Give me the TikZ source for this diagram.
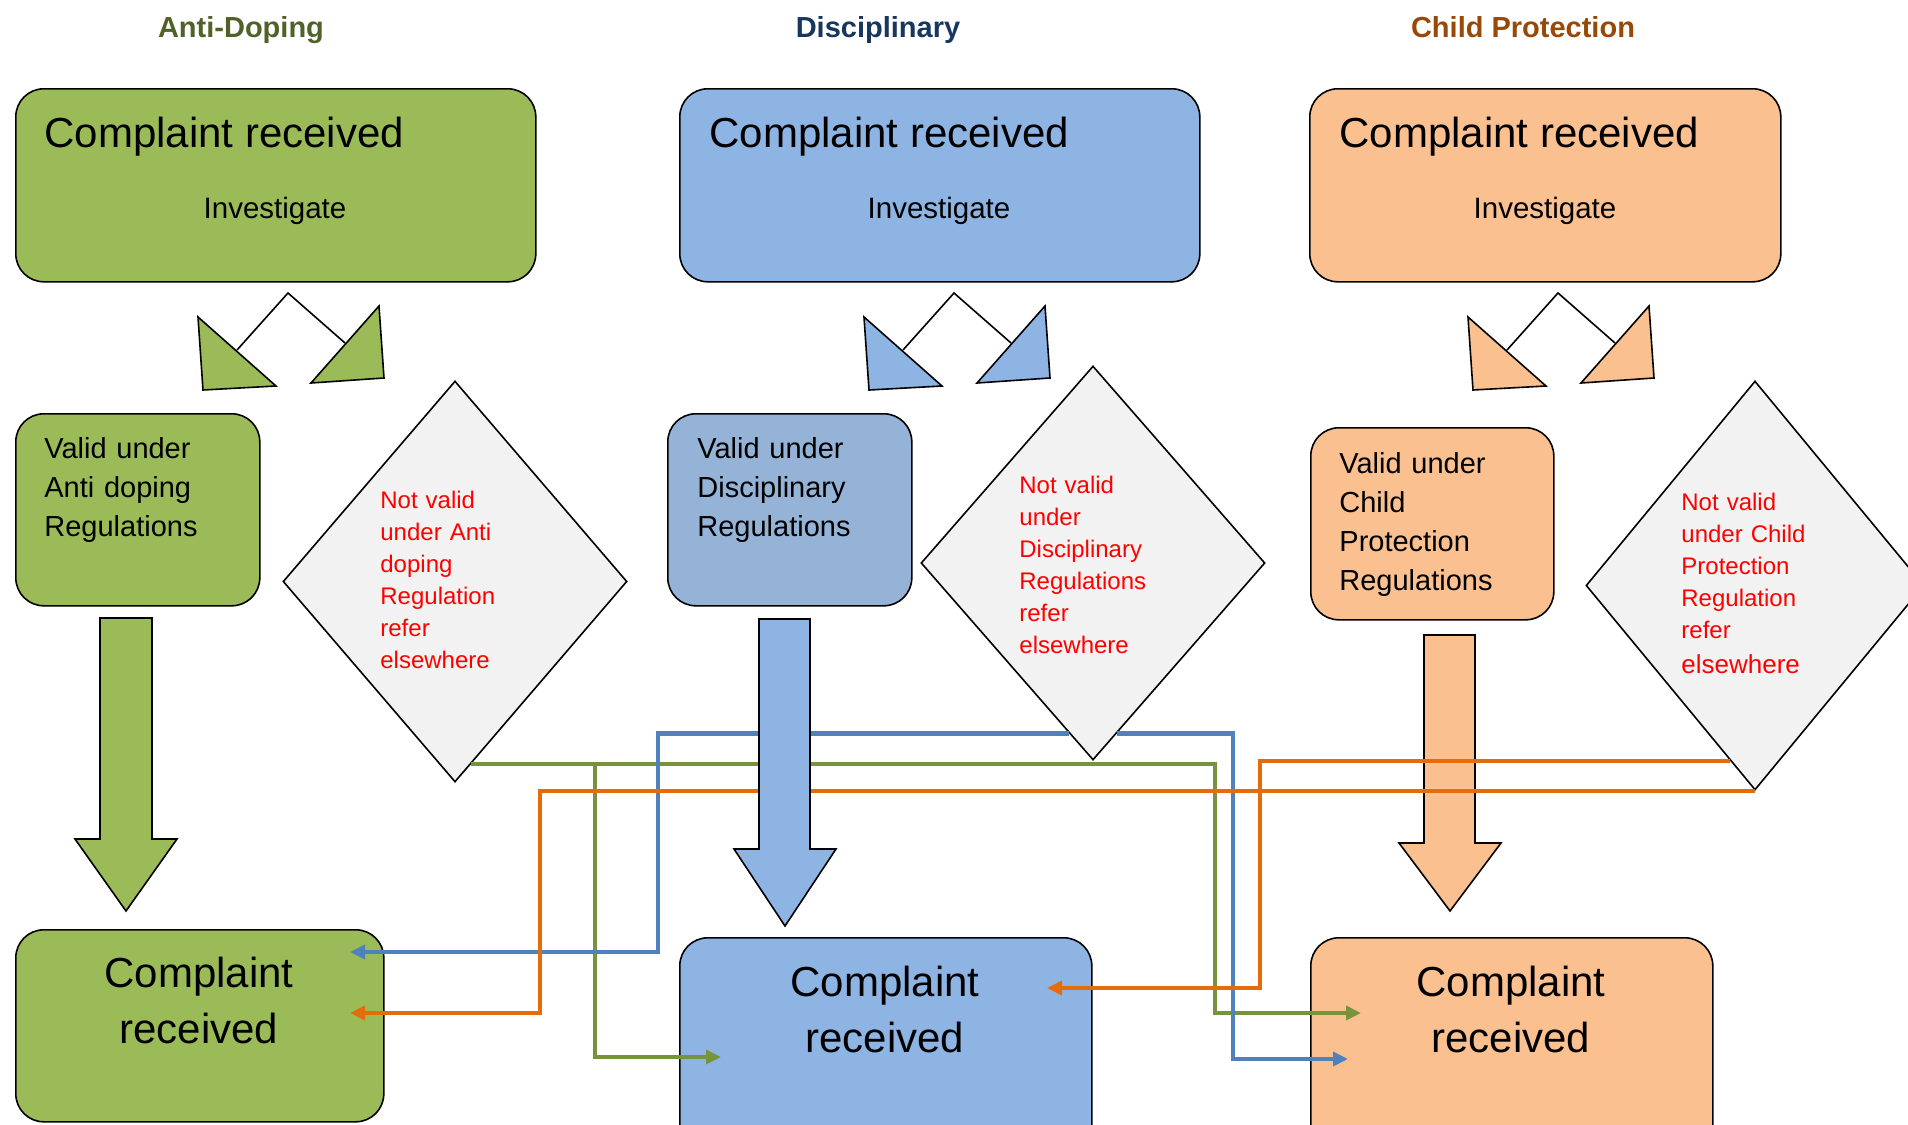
\documentclass[tikz,border=0pt]{standalone}
\usepackage{fontspec}
\setmainfont{Liberation Sans}
\usetikzlibrary{shapes.geometric, arrows.meta}

\definecolor{adgreen}{HTML}{9BBB59}
\definecolor{adtitle}{HTML}{4F6228}
\definecolor{adline}{HTML}{77933C}
\definecolor{dcblue}{HTML}{8EB4E3}
\definecolor{dcvalid}{HTML}{95B3D7}
\definecolor{dctitle}{HTML}{17375E}
\definecolor{dcline}{HTML}{4F81BD}
\definecolor{cporange}{HTML}{FAC090}
\definecolor{cptitle}{HTML}{984807}
\definecolor{cpline}{HTML}{E46C0A}
\definecolor{notfill}{HTML}{F2F2F2}

\tikzset{
  head/.style = {anchor=base, inner sep=0pt, font=\fontsize{14.5}{17}\selectfont\bfseries},
  box/.style = {draw, line width=0.8pt, rounded corners=14pt, anchor=north west, inner sep=0pt},
  bigtext/.style = {anchor=base west, inner sep=0pt, font=\fontsize{21}{28}\selectfont},
  invtext/.style = {anchor=base, inner sep=0pt, font=\fontsize{14.75}{18}\selectfont},
  validtext/.style = {anchor=base west, inner sep=0pt, text width=110pt, align=left, font=\fontsize{14.5}{19.5}\selectfont},
  notbox/.style = {diamond, draw, line width=0.8pt, fill=notfill, inner sep=0pt},
  nottext/.style = {anchor=base west, inner sep=0pt, text width=80pt, align=left, text=red, font=\fontsize{12}{16}\selectfont},
  bottext/.style = {anchor=base, inner sep=0pt, text width=150pt, align=center, font=\fontsize{21}{28}\selectfont},
  fork/.style = {draw, line width=0.8pt},
  bigarrow/.style = {draw, line width=0.8pt, line join=miter},
  link/.style = {line width=2.25pt, -{Triangle[length=7.5pt, width=7pt]}}
}

\begin{document}
\begin{tikzpicture}[x=0.5pt, y=-0.5pt]
\useasboundingbox (0,0) rectangle (1908,1125);

% headings
\node[head, text=adtitle] (adhead) at (241,37) {Anti-Doping};
\node[head, text=dctitle] (dchead) at (878,37) {Disciplinary};
\node[head, text=cptitle] (cphead) at (1523,37) {Child Protection};

% complaint boxes
\node[box, fill=adgreen, minimum width=260pt, minimum height=96.5pt] (adtop) at (15,88) {};
\node[bigtext] (adtopa) at (44,147) {Complaint received};
\node[invtext] (adtopb) at (275,218) {Investigate};
\node[box, fill=dcblue, minimum width=260pt, minimum height=96.5pt] (dctop) at (679,88) {};
\node[bigtext] (dctopa) at (709,147) {Complaint received};
\node[invtext] (dctopb) at (939,218) {Investigate};
\node[box, fill=cporange, minimum width=235.5pt, minimum height=96.5pt] (cptop) at (1309,88) {};
\node[bigtext] (cptopa) at (1339,147) {Complaint received};
\node[invtext] (cptopb) at (1545,218) {Investigate};

% forks
\draw[fork, fill=adgreen] (198,317) -- (203,390) -- (276,386) -- cycle;
\draw[fork, fill=adgreen] (379,306) -- (384,378) -- (311,383) -- cycle;
\draw[fork] (237,350) -- (288,293) -- (345,343);
\draw[fork, fill=dcblue] (864,317) -- (869,390) -- (942,386) -- cycle;
\draw[fork, fill=dcblue] (1045,306) -- (1050,378) -- (977,383) -- cycle;
\draw[fork] (903,350) -- (954,293) -- (1011,343);
\draw[fork, fill=cporange] (1468,317) -- (1473,390) -- (1546,386) -- cycle;
\draw[fork, fill=cporange] (1649,306) -- (1654,378) -- (1581,383) -- cycle;
\draw[fork] (1507,350) -- (1558,293) -- (1615,343);

% valid
\node[box, fill=adgreen, minimum width=122pt, minimum height=96pt] (advalid) at (15,413) {};
\node[validtext] (advalidt) at (44,458) {Valid under\\Anti doping\\Regulations};
\node[box, fill=dcvalid, minimum width=122pt, minimum height=96pt] (dcvalid) at (667,413) {};
\node[validtext] (dcvalidt) at (697,458) {Valid under\\Disciplinary\\Regulations};
\node[box, fill=cporange, minimum width=121.5pt, minimum height=96pt] (cpvalid) at (1310,427) {};
\node[validtext] (cpvalidt) at (1339,473) {Valid under\\Child\\Protection\\Regulations};

% not valid
\node[notbox, minimum width=172pt, minimum height=200.5pt] (adnot) at (455,581.5) {};
\node[nottext] (adnott) at (380,508) {Not valid\\under Anti\\doping\\Regulation\\refer\\elsewhere};
\node[notbox, minimum width=172pt, minimum height=197pt] (dcnot) at (1093,563) {};
\node[nottext] (dcnott) at (1019,493) {Not valid\\under\\Disciplinary\\Regulations\\refer\\elsewhere};
\node[notbox, minimum width=169pt, minimum height=204.5pt] (cpnot) at (1755,585.5) {};
\node[nottext] (cpnott) at (1681,510) {Not valid\\under Child\\Protection\\Regulation\\refer\\[1.5pt]{\fontsize{13}{16}\selectfont elsewhere}};

% down arrows
\draw[bigarrow, fill=adgreen] (100,618) -- (152,618) -- (152,839) -- (177,839) -- (126,911) -- (75,839) -- (100,839) -- cycle;
\draw[bigarrow, fill=cporange] (1424,635) -- (1475,635) -- (1475,843) -- (1501,843) -- (1450,911) -- (1399,843) -- (1424,843) -- cycle;

% complaint received again
\node[box, fill=adgreen, minimum width=184pt, minimum height=96pt] (adbot) at (15,929) {};
\node[bottext] (adbott) at (199,987) {Complaint\\received};
\node[box, fill=dcblue, minimum width=206pt, minimum height=115pt] (dcbot) at (679,937) {};
\node[bottext] (dcbott) at (885,996) {Complaint\\received};
\node[box, fill=cporange, minimum width=201pt, minimum height=115pt] (cpbot) at (1310,937) {};
\node[bottext] (cpbott) at (1511,996) {Complaint\\received};

% referrals
\coordinate (adin1) at (350,952);
\coordinate (adin2) at (350,1013);
\coordinate (dcin1) at (1047,988);
\coordinate (dcin2) at (721,1057);
\coordinate (cpin1) at (1361,1013);
\coordinate (cpin2) at (1348,1059);
\coordinate (adturn1) at (595,1057);
\coordinate (adturn2) at (1215,1013);
\coordinate (dcturn1) at (658,952);
\coordinate (dcturn2) at (1233,1059);
\coordinate (cpturn1) at (1260,988);
\coordinate (cpturn2) at (540,1013);

\draw[link, adline] (adnot.-85) -| (adturn2) -- (cpin1);
\draw[link, adline] (adturn1 |- adnot.-85) -- (adturn1) -- (dcin2);
\draw[link, dcline] (dcnot.-98) -| (dcturn1) -- (adin1);
\draw[link, dcline] (dcnot.-82) -| (dcturn2) -- (cpin2);
\draw[link, cpline] (cpnot.-98) -| (cpturn1) -- (dcin1);
\draw[link, cpline] (cpnot.south) -| (cpturn2) -- (adin2);

\draw[bigarrow, fill=dcblue] (759,619) -- (810,619) -- (810,849) -- (836,849) -- (785,926) -- (734,849) -- (759,849) -- cycle;
\end{tikzpicture}
\end{document}
